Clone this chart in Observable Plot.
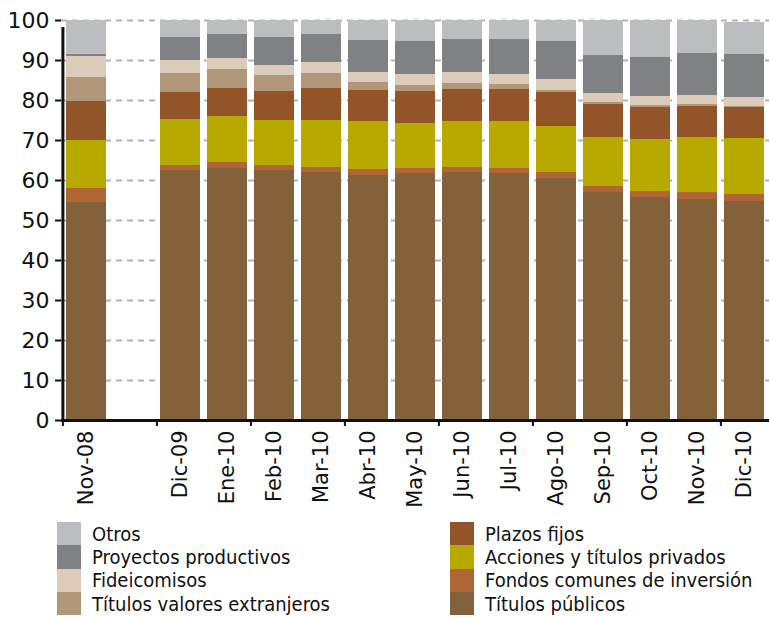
<!DOCTYPE html>
<html>
<head>
<meta charset="utf-8">
<script src="https://cdn.jsdelivr.net/npm/d3@7"></script>
<script src="https://cdn.jsdelivr.net/npm/@observablehq/plot@0.6"></script>
<style>
  body { margin: 0; background: #fff; }
  #wrap { position: relative; width: 769px; height: 617px; }
  #legend {
    position: absolute; top: 522px; left: 57px;
    display: grid; grid-auto-flow: column;
    grid-template-columns: 393px auto; grid-template-rows: repeat(4, 23.3px);
    font: 20px "DejaVu Sans Condensed", "DejaVu Sans", sans-serif; color: #111;
  }
  .item { display: flex; align-items: center; white-space: nowrap; }
  .sw { width: 24px; height: 100%; margin-right: 11px; flex: none; }
</style>
</head>
<body>
<div id="wrap"><div id="chart"></div><div id="legend"></div></div>
<script>
// Months shown on the x axis; a blank slot separates Nov-08 from the 2009–2010 series.
const months = ["Nov-08", "Dic-09", "Ene-10", "Feb-10", "Mar-10", "Abr-10", "May-10",
                "Jun-10", "Jul-10", "Ago-10", "Sep-10", "Oct-10", "Nov-10", "Dic-10"];
const gap = " ";

// Portfolio composition (% of total), one array per instrument, in month order.
const titulosPublicos   = [54.5, 62.5, 63,   62.5,  62,    61.25, 61.75, 62,    61.75, 60.5, 57,    55.75, 55.25, 54.75];
const fondosComunes     = [3.5,  1.25, 1.5,  1.25,  1.25,  1.5,   1.25,  1.25,  1.25,  1.5,  1.5,   1.5,   1.75,  1.75];
const acciones          = [12,   11.5, 11.5, 11.25, 11.75, 12,    11.25, 11.5,  11.75, 11.5, 12.25, 13,    13.75, 14];
const plazosFijos       = [9.75, 6.75, 7,    7.25,  8,     7.75,  8,     8,     8,     8.5,  8.25,  8,     7.75,  7.75];
const titulosExtranjeros= [6,    4.75, 4.75, 4,     3.75,  2,     1.5,   1.5,   1.25,  0.5,  0.5,   0.5,   0.5,   0.25];
const fideicomisos      = [5.25, 3.25, 2.75, 2.5,   2.75,  2.5,   2.75,  2.75,  2.5,   2.75, 2.25,  2.25,  2.25,  2.25];
const proyectos         = [0.6,  5.75, 6,    7,     7,     8,     8.25,  8.25,  8.75,  9.5,  9.5,   9.75,  10.5,  10.75];
const otros             = [8.4,  4.25, 3.5,  4.25,  3.5,   5,     5.25,  4.75,  4.75,  5.25, 8.75,  9.25,  8.25,  8];

// Stack order, bottom to top.
const seriesNames = ["Títulos públicos", "Fondos comunes de inversión", "Acciones y títulos privados",
                     "Plazos fijos", "Títulos valores extranjeros", "Fideicomisos",
                     "Proyectos productivos", "Otros"];
const seriesValues = [titulosPublicos, fondosComunes, acciones, plazosFijos,
                      titulosExtranjeros, fideicomisos, proyectos, otros];
const seriesColors = ["#82613b", "#b06634", "#b8a900", "#925428",
                      "#b09779", "#dacbbb", "#808184", "#bcbdc0"];

// Legend layout: two columns of four, read top to bottom.
const legendOrder = ["Otros", "Proyectos productivos", "Fideicomisos", "Títulos valores extranjeros",
                     "Plazos fijos", "Acciones y títulos privados", "Fondos comunes de inversión", "Títulos públicos"];

const rows = seriesNames.flatMap((name, s) =>
  months.map((month, i) => ({month, serie: name, value: seriesValues[s][i]})));

const xDomain = [months[0], gap, ...months.slice(1)];
const tickMonths = xDomain.filter((d, i) => i % 2 === 0);

const W = 769, H = 515, ML = 61, MR = 0, MT = 20, MB = 95;
const step = (W - ML - MR) / xDomain.length;

const chart = Plot.plot({
  width: W, height: H,
  marginLeft: ML, marginRight: MR, marginTop: MT, marginBottom: MB,
  style: {fontFamily: "DejaVu Sans", color: "#111", background: "#fff"},
  x: {domain: xDomain, paddingInner: 0.15, paddingOuter: 0.075, label: null},
  y: {domain: [0, 100], label: null},
  color: {domain: seriesNames, range: seriesColors},
  marks: [
    Plot.gridY(d3.range(10, 101, 10), {stroke: "#b4b4b4", strokeOpacity: 1, strokeWidth: 2, strokeDasharray: "6,5"}),
    Plot.barY(rows, {x: "month", y: "value", fill: "serie"}),
    Plot.ruleY([0], {strokeWidth: 3, stroke: "#111"}),
    // vertical axis line at the left edge of the first band
    Plot.ruleX([xDomain[0]], {y1: 0, y2: 100, dx: -step / 2, strokeWidth: 3, stroke: "#111", insetBottom: -7}),
    // category tick marks between every other band
    Plot.ruleX(tickMonths, {y1: 0, y2: 0, dx: -step / 2, strokeWidth: 2, stroke: "#111", insetBottom: -6}),
    Plot.axisY(d3.range(0, 101, 10), {tickSize: 6, tickPadding: 6, fontSize: 22, strokeWidth: 2}),
    Plot.axisX({tickSize: 0, tickRotate: -90, tickPadding: 10, fontSize: 21})
  ]
});
document.getElementById("chart").appendChild(chart);

const legend = d3.select("#legend");
for (const name of legendOrder) {
  const item = legend.append("div").attr("class", "item");
  item.append("div").attr("class", "sw").style("background", seriesColors[seriesNames.indexOf(name)]);
  item.append("span").text(name);
}
</script>
</body>
</html>
